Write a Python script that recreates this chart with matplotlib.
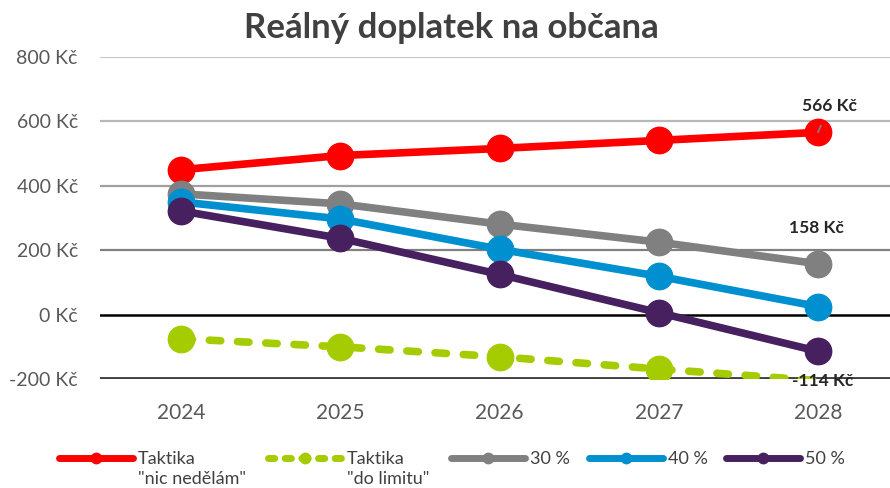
import matplotlib
matplotlib.use('Agg')
import numpy as np
from matplotlib import pyplot as plt
from matplotlib.lines import Line2D

plt.rcParams['font.family'] = ['Lato', 'DejaVu Sans']

years = ['2024', '2025', '2026', '2027', '2028']
nic_nedelam = [450, 494, 516, 541, 566]
do_limitu = [-75, -100, -131, -169, -205]
pct30 = [375, 344, 281, 225, 158]
pct40 = [350, 297, 203, 119, 25]
pct50 = [322, 237, 125, 6, -114]
y_ticks = [-200, 0, 200, 400, 600, 800]
y_labels = ['-200 Kč', '0 Kč', '200 Kč', '400 Kč', '600 Kč', '800 Kč']

# (first legend line, second legend line, values, colour, style)
series = [
    ('Taktika', '"nic nedělám"', nic_nedelam, '#ff0000', '-'),
    ('Taktika', '"do limitu"', do_limitu, '#a5cc00', '--'),
    ('30 %', '', pct30, '#808080', '-'),
    ('40 %', '', pct40, '#0090d0', '-'),
    ('50 %', '', pct50, '#46205f', '-'),
]

fig = plt.figure(figsize=(8.9, 4.88), dpi=100)
ax = fig.add_axes([100/890, 1-379/488, 790/890, (379-57)/488])

# gridlines (each a bit darker toward the bottom)
grid_style = {800: ('#c8c8c8', 1.6), 600: ('#b8b8b8', 1.6), 400: ('#a0a0a0', 1.6),
              200: ('#808080', 1.6), 0: ('#000000', 1.8), -200: ('#404040', 3.5)}
for yv, (c, lw) in grid_style.items():
    ax.axhline(yv, color=c, lw=lw, zorder=1)

x = list(range(len(years)))
for _, _, vals, color, ls in series:
    ax.plot(x, vals, color=color, lw=5.5, ls=ls, dash_capstyle='round', zorder=3,
            **({'dashes': (1.5, 2.2)} if ls == '--' else {}))
    # like Excel: no marker for points outside the value axis range
    v = np.ma.masked_outside(np.array(vals, dtype=float), y_ticks[0], y_ticks[-1])
    ax.plot(x, v, ls='none', marker='o', ms=19, color=color, zorder=3)

ax.set_xlim(-0.509, 4.452)
ax.set_ylim(-200, 800)
ax.set_xticks(x)
ax.set_xticklabels(years)
ax.set_yticks(y_ticks)
ax.set_yticklabels(y_labels)
ax.tick_params(length=0, colors='#595959')
ax.tick_params(axis='y', labelsize=14, pad=16)
ax.tick_params(axis='x', labelsize=15, pad=17)
for s in ax.spines.values():
    s.set_visible(False)

# data labels on the last year
ax.annotate(f'{nic_nedelam[-1]} Kč', xy=(4, nic_nedelam[-1]), xytext=(4.07, 648),
            ha='center', va='center', fontsize=12.5, fontweight='bold', color='#262626',
            arrowprops=dict(arrowstyle='-', color='#808080', lw=1.3, shrinkA=7, shrinkB=0))
ax.text(3.99, 268, f'{pct30[-1]} Kč', ha='center', va='center', fontsize=12.5,
        fontweight='bold', color='#262626', zorder=5)
ax.text(4.03, -207, f'{pct50[-1]} Kč', ha='center', va='center', fontsize=12.5,
        fontweight='bold', color='#262626', zorder=5)

fig.text(0.507, 0.942, 'Reálný doplatek na občana', ha='center', va='center',
         fontsize=25, fontweight='bold', color='#404040')

# legend: one small legend per series so the spacing matches the original
leg_x = [59, 268, 451, 589, 726]
legends = []
for (l1, l2, _, c, ls), lx in zip(series, leg_x):
    h = Line2D([], [], color=c, lw=5, ls=ls, marker='o', ms=7.5,
               dash_capstyle='round', solid_capstyle='round',
               **({'dashes': (0.9, 1.5)} if ls == '--' else {}))
    lg = fig.legend([h], [l1], loc='center left',
                    bbox_to_anchor=(lx/890, 1-459/488), frameon=False,
                    fontsize=13, handlelength=4.1, handletextpad=0.25,
                    labelcolor='#404040', borderaxespad=0, borderpad=0)
    legends.append(lg)

fig.canvas.draw()
for lg, s in zip(legends, series):
    if s[1]:
        bb = lg.get_texts()[0].get_window_extent()
        fig.text(bb.x0 / fig.bbox.width, 1 - 479/488, s[1], ha='left', va='center',
                 fontsize=13, color='#404040')

fig.savefig('out.png', dpi=100)
